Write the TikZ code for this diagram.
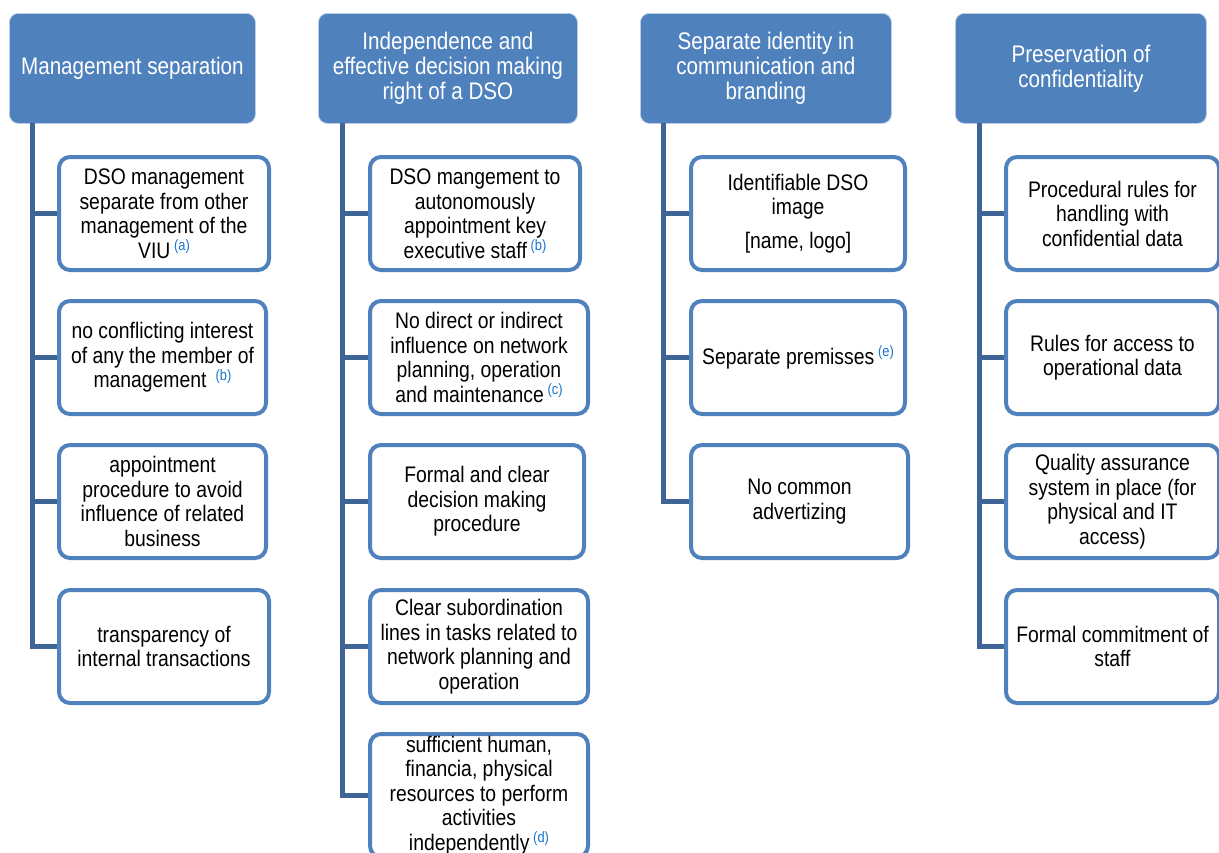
\documentclass[tikz,border=0pt]{standalone}
\usepackage{fontspec}
\setmainfont{Liberation Sans}[FakeStretch=0.86]
\usepackage{xcolor}
\usepackage{tikz}
\usetikzlibrary{positioning}
\definecolor{hdrblue}{HTML}{4F81BD}
\definecolor{stemblue}{HTML}{3F6597}
\definecolor{fnblue}{HTML}{1A75CF}
\tikzstyle{hdr} = [rectangle, rounded corners=9pt, fill=hdrblue, draw=hdrblue!40!white,
  line width=0.8pt, text=white, align=center, anchor=north west,
  minimum height=110pt, font={\fontsize{24}{25}\selectfont}]
\tikzstyle{item} = [rectangle, rounded corners=11pt, draw=hdrblue, fill=white,
  line width=4pt, align=center, anchor=north west, inner ysep=2pt,
  minimum height=113pt, font={\fontsize{22.5}{24.5}\selectfont}]
\tikzstyle{stem} = [draw=stemblue, line width=5pt]
\newcommand{\fnref}[1]{\,\raisebox{7.5pt}{\fontsize{15}{15}\selectfont\color{fnblue}(#1)}}

\begin{document}
\begin{tikzpicture}[
    x=1pt, y=-1pt
  ]
    \useasboundingbox (0,0) rectangle (1219,852);
    % column 1
    \node [hdr, minimum width=246pt] at (9,13) (mgmt) {Management separation};
    \coordinate (t1) at (32,123);
    \node [item, minimum width=210pt] at (57,155) (m1)
      {DSO management\\separate from other\\management of the\\VIU\fnref{a}};
    \node [item, minimum width=207pt] at (57,299) (m2)
      {no conflicting interest\\of any the member of\\management \fnref{b}};
    \node [item, minimum width=207pt] at (57,443) (m3)
      {appointment\\procedure to avoid\\influence of related\\business};
    \node [item, minimum width=210pt] at (57,588) (m4)
      {transparency of\\internal transactions};
    \foreach \n in {m1,m2,m3,m4}
      \path [stem] (t1) |- (\n.west);
    % column 2
    \node [hdr, minimum width=259pt] at (318,13) (indep)
      {Independence and\\effective decision making\\right of a DSO};
    \coordinate (t2) at (342,123);
    \node [item, minimum width=210pt] at (368,155) (i1)
      {DSO mangement to\\autonomously\\appointment key\\executive staff\fnref{b}};
    \node [item, minimum width=218pt] at (368,299) (i2)
      {No direct or indirect\\influence on network\\planning, operation\\and maintenance\fnref{c}};
    \node [item, minimum width=214pt] at (368,443) (i3)
      {Formal and clear\\decision making\\procedure};
    \node [item, minimum width=218pt] at (368,588) (i4)
      {Clear subordination\\lines in tasks related to\\network planning and\\operation};
    \node [item, minimum width=218pt] at (368,732) (i5)
      {sufficient human,\\financia, physical\\resources to perform\\activities\\independently\fnref{d}};
    \foreach \n in {i1,i2,i3,i4,i5}
      \path [stem] (t2) |- (\n.west);
    % column 3
    \node [hdr, minimum width=251pt] at (640,13) (ident)
      {Separate identity in\\communication and\\branding};
    \coordinate (t3) at (663,123);
    \node [item, minimum width=214pt] at (689,155) (s1)
      {Identifiable DSO\\image\\[9pt]{[}name, logo{]}};
    \node [item, minimum width=214pt] at (689,299) (s2)
      {Separate premisses\fnref{e}};
    \node [item, minimum width=217pt] at (689,443) (s3)
      {No common\\advertizing};
    \foreach \n in {s1,s2,s3}
      \path [stem] (t3) |- (\n.west);
    % column 4
    \node [hdr, minimum width=251pt] at (955,13) (conf)
      {Preservation of\\confidentiality};
    \coordinate (t4) at (979,123);
    \node [item, minimum width=213pt] at (1004,155) (p1)
      {Procedural rules for\\handling with\\confidential data};
    \node [item, minimum width=213pt] at (1004,299) (p2)
      {Rules for access to\\operational data};
    \node [item, minimum width=213pt] at (1004,443) (p3)
      {Quality assurance\\system in place (for\\physical and IT\\access)};
    \node [item, minimum width=213pt] at (1004,588) (p4)
      {Formal commitment of\\staff};
    \foreach \n in {p1,p2,p3,p4}
      \path [stem] (t4) |- (\n.west);
  \end{tikzpicture}
\end{document}
